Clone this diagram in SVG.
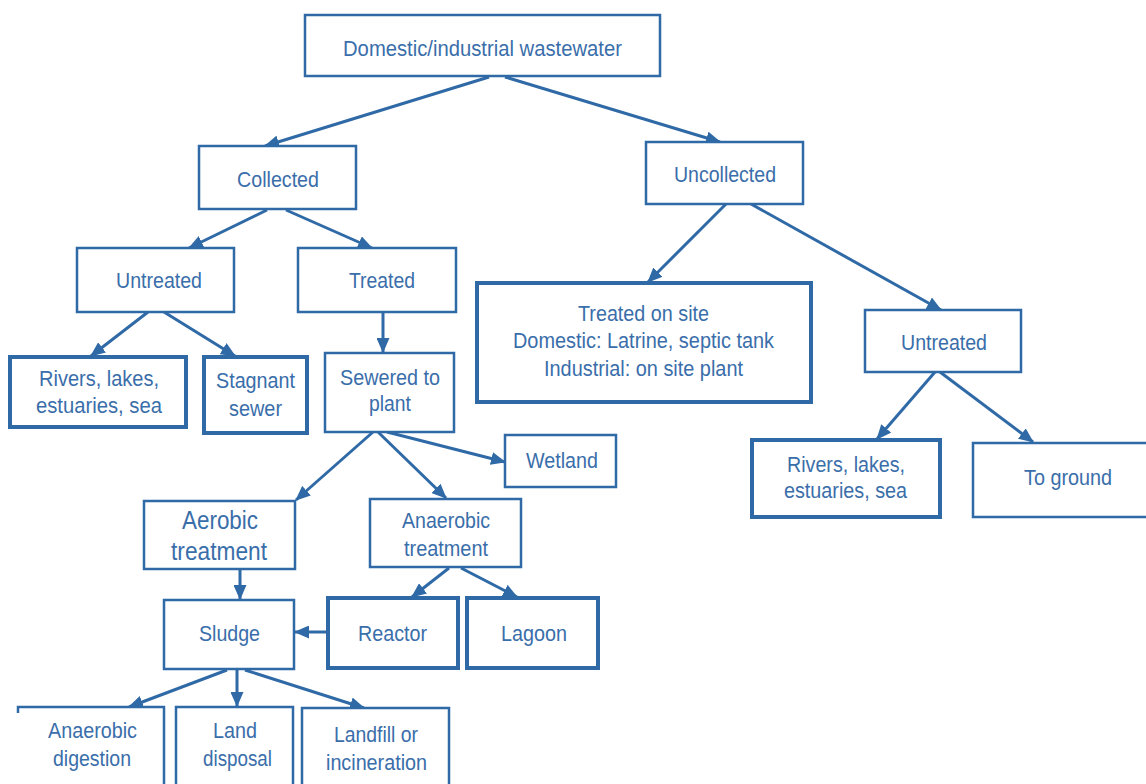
<svg xmlns="http://www.w3.org/2000/svg" width="1146" height="784" viewBox="0 0 1146 784">
<defs>
<marker id="ah" markerUnits="userSpaceOnUse" markerWidth="15" markerHeight="13" refX="14" refY="6.5" orient="auto">
<path d="M0,0 L15,6.5 L0,13 Z" fill="#2f6aa7"/>
</marker>
<style>
.b{fill:#fff;stroke:#2f6aa7;stroke-width:2.5}
.k{fill:#fff;stroke:#2f6aa7;stroke-width:4}
.c line{stroke:#2f6aa7;stroke-width:3;marker-end:url(#ah)}
text{font-family:"Liberation Sans",Arial,sans-serif;font-size:22px;fill:#3a6eaa}
.L{font-size:25px}
</style>
</defs>
<rect width="1146" height="784" fill="#fff"/>
<g class="c">
<line x1="489" y1="77" x2="265" y2="146"/>
<line x1="505" y1="77" x2="720" y2="142"/>
<line x1="267" y1="210" x2="189" y2="248"/>
<line x1="286" y1="210" x2="372" y2="248"/>
<line x1="148" y1="312" x2="91" y2="356"/>
<line x1="164" y1="312" x2="235" y2="356"/>
<line x1="383" y1="312" x2="383" y2="352"/>
<line x1="373" y1="432" x2="296" y2="500"/>
<line x1="378" y1="432" x2="446" y2="498"/>
<line x1="387" y1="432" x2="505" y2="462"/>
<line x1="240" y1="569" x2="240" y2="599"/>
<line x1="449" y1="568" x2="412" y2="597"/>
<line x1="461" y1="568" x2="517" y2="597"/>
<line x1="327" y1="632" x2="295" y2="632"/>
<line x1="227" y1="670" x2="129" y2="707"/>
<line x1="237" y1="670" x2="237" y2="706"/>
<line x1="245" y1="670" x2="364" y2="708"/>
<line x1="726" y1="204" x2="648" y2="282"/>
<line x1="751" y1="204" x2="941" y2="310"/>
<line x1="935" y1="372" x2="877" y2="439"/>
<line x1="940" y1="372" x2="1033" y2="442"/>
</g>
<g id="n-root"><rect class="b" x="305" y="15" width="355" height="61"/><text x="343" y="56" textLength="279" lengthAdjust="spacingAndGlyphs">Domestic/industrial wastewater</text></g>
<g id="n-collected"><rect class="b" x="199" y="146" width="157" height="63"/><text x="237" y="187" textLength="82" lengthAdjust="spacingAndGlyphs">Collected</text></g>
<g id="n-uncollected"><rect class="b" x="646" y="142" width="157" height="62"/><text x="674" y="182" textLength="102" lengthAdjust="spacingAndGlyphs">Uncollected</text></g>
<g id="n-untreated1"><rect class="b" x="77" y="248" width="157" height="64"/><text x="116" y="288" textLength="86" lengthAdjust="spacingAndGlyphs">Untreated</text></g>
<g id="n-treated"><rect class="b" x="298" y="248" width="158" height="64"/><text x="349" y="288" textLength="66" lengthAdjust="spacingAndGlyphs">Treated</text></g>
<g id="n-onsite"><rect class="k" x="477" y="283" width="334" height="119"/>
<text x="578" y="321" textLength="131" lengthAdjust="spacingAndGlyphs">Treated on site</text>
<text x="513" y="348" textLength="261" lengthAdjust="spacingAndGlyphs">Domestic: Latrine, septic tank</text>
<text x="544" y="376" textLength="199" lengthAdjust="spacingAndGlyphs">Industrial: on site plant</text></g>
<g id="n-untreated2"><rect class="b" x="865" y="310" width="156" height="62"/><text x="901" y="350" textLength="86" lengthAdjust="spacingAndGlyphs">Untreated</text></g>
<g id="n-rivers1"><rect class="k" x="10" y="357" width="176" height="70"/>
<text x="39" y="386" textLength="120" lengthAdjust="spacingAndGlyphs">Rivers, lakes,</text>
<text x="36" y="413" textLength="126" lengthAdjust="spacingAndGlyphs">estuaries, sea</text></g>
<g id="n-stagnant"><rect class="k" x="204" y="357" width="103" height="76"/>
<text x="216" y="388" textLength="79" lengthAdjust="spacingAndGlyphs">Stagnant</text>
<text x="229" y="416" textLength="53" lengthAdjust="spacingAndGlyphs">sewer</text></g>
<g id="n-sewered"><rect class="b" x="325" y="353" width="129" height="79"/>
<text x="340" y="385" textLength="100" lengthAdjust="spacingAndGlyphs">Sewered to</text>
<text x="369" y="411" textLength="42" lengthAdjust="spacingAndGlyphs">plant</text></g>
<g id="n-wetland"><rect class="b" x="505" y="435" width="111" height="52"/><text x="526" y="468" textLength="72" lengthAdjust="spacingAndGlyphs">Wetland</text></g>
<g id="n-rivers2"><rect class="k" x="752" y="440" width="188" height="77"/>
<text x="787" y="472" textLength="118" lengthAdjust="spacingAndGlyphs">Rivers, lakes,</text>
<text x="784" y="498" textLength="123" lengthAdjust="spacingAndGlyphs">estuaries, sea</text></g>
<g id="n-ground"><rect class="b" x="973" y="443" width="200" height="74"/><text x="1024" y="485" textLength="88" lengthAdjust="spacingAndGlyphs">To ground</text></g>
<g id="n-aerobic"><rect class="b" x="144" y="501" width="151" height="68"/>
<text class="L" x="182" y="529" textLength="76" lengthAdjust="spacingAndGlyphs">Aerobic</text>
<text class="L" x="171" y="560" textLength="96" lengthAdjust="spacingAndGlyphs">treatment</text></g>
<g id="n-anaerobic"><rect class="b" x="370" y="499" width="151" height="68"/>
<text x="402" y="528" textLength="88" lengthAdjust="spacingAndGlyphs">Anaerobic</text>
<text x="404" y="556" textLength="84" lengthAdjust="spacingAndGlyphs">treatment</text></g>
<g id="n-sludge"><rect class="b" x="164" y="600" width="130" height="69"/><text x="199" y="641" textLength="61" lengthAdjust="spacingAndGlyphs">Sludge</text></g>
<g id="n-reactor"><rect class="k" x="328" y="598" width="130" height="70"/><text x="358" y="641" textLength="69" lengthAdjust="spacingAndGlyphs">Reactor</text></g>
<g id="n-lagoon"><rect class="k" x="467" y="598" width="131" height="70"/><text x="501" y="641" textLength="66" lengthAdjust="spacingAndGlyphs">Lagoon</text></g>
<g id="n-digestion"><path d="M18,713 V707 H164 V790" fill="#fff" stroke="#2f6aa7" stroke-width="2.5"/>
<text x="48" y="738" textLength="89" lengthAdjust="spacingAndGlyphs">Anaerobic</text>
<text x="53" y="766" textLength="78" lengthAdjust="spacingAndGlyphs">digestion</text></g>
<g id="n-land"><rect class="b" x="176" y="707" width="117" height="90"/>
<text x="213" y="738" textLength="44" lengthAdjust="spacingAndGlyphs">Land</text>
<text x="203" y="766" textLength="69" lengthAdjust="spacingAndGlyphs">disposal</text></g>
<g id="n-landfill"><rect class="b" x="302" y="708" width="147" height="90"/>
<text x="334" y="742" textLength="84" lengthAdjust="spacingAndGlyphs">Landfill or</text>
<text x="326" y="770" textLength="101" lengthAdjust="spacingAndGlyphs">incineration</text></g>
</svg>
